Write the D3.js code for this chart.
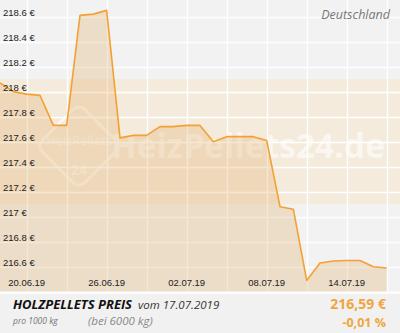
<!DOCTYPE html>
<html lang="de">
<head>
  <meta charset="UTF-8">
  <title>Holzpellets Preis</title>
  <script src="https://d3js.org/d3.v7.min.js"></script>
  <style>
    body { margin: 0; background: #fff; }
    svg { display: block; }
    .ylab, .xlab { font-family: "Liberation Sans", Arial, sans-serif; font-size: 9.5px; fill: #222; }
    .foot { font-family: "Open Sans", sans-serif; }
  </style>
</head>
<body>
  <svg width="400" height="333"></svg>

  <script>
    // daily prices, 18.06.2019 - 17.07.2019 (EUR per 1000 kg)
    const days = [
      "2019-06-18", "2019-06-19", "2019-06-20", "2019-06-21", "2019-06-22", "2019-06-23",
      "2019-06-24", "2019-06-25", "2019-06-26", "2019-06-27", "2019-06-28", "2019-06-29",
      "2019-06-30", "2019-07-01", "2019-07-02", "2019-07-03", "2019-07-04", "2019-07-05",
      "2019-07-06", "2019-07-07", "2019-07-08", "2019-07-09", "2019-07-10", "2019-07-11",
      "2019-07-12", "2019-07-13", "2019-07-14", "2019-07-15", "2019-07-16", "2019-07-17"
    ];
    const prices = [
      218.07, 218.00, 217.98, 217.97, 217.73, 217.73,
      218.61, 218.62, 218.65, 217.63, 217.65, 217.65,
      217.72, 217.72, 217.73, 217.73, 217.60, 217.64,
      217.64, 217.64, 217.61, 217.08, 217.06, 216.49,
      216.63, 216.645, 216.65, 216.65, 216.60, 216.59
    ];
    const yTicks = [216.6, 216.8, 217, 217.2, 217.4, 217.6, 217.8, 218, 218.2, 218.4, 218.6];
    const xTicks = ["2019-06-20", "2019-06-26", "2019-07-02", "2019-07-08", "2019-07-14"];
    const xGrid = ["2019-06-20", "2019-06-23", "2019-06-26", "2019-06-29", "2019-07-02",
                   "2019-07-05", "2019-07-08", "2019-07-11", "2019-07-14", "2019-07-17"];
    const band = [217.1, 218.1];

    const parse = d3.utcParse("%Y-%m-%d");
    const data = days.map((d, i) => ({ date: parse(d), value: prices[i] }));

    const W = 400, plotH = 291.7;
    const svg = d3.select("svg");

    const x = d3.scaleUtc()
      .domain([parse("2019-06-18"), parse("2019-07-18")])
      .range([0, W]);
    const y = d3.scaleLinear()
      .domain([216.4, 218.733])
      .range([plotH, 0]);

    // plot background
    svg.append("rect").attr("width", W).attr("height", plotH).attr("fill", "#f2f2f2");
    svg.append("rect")
      .attr("x", 0).attr("width", W)
      .attr("y", y(band[1])).attr("height", y(band[0]) - y(band[1]))
      .attr("fill", "#f4ebdd");

    // grid
    svg.append("g").selectAll("line").data(yTicks).join("line")
      .attr("x1", 0).attr("x2", W)
      .attr("y1", d => Math.round(y(d)) + 0.5).attr("y2", d => Math.round(y(d)) + 0.5)
      .attr("stroke", "#fff").attr("stroke-width", 1.3);
    svg.append("g").selectAll("line").data(xGrid).join("line")
      .attr("x1", d => Math.round(x(parse(d))) + 0.5).attr("x2", d => Math.round(x(parse(d))) + 0.5)
      .attr("y1", 0).attr("y2", plotH)
      .attr("stroke", "#fff").attr("stroke-width", 1.3);

    // watermark
    const wm = svg.append("g").attr("opacity", 0.6);
    wm.append("rect")
      .attr("x", -30).attr("y", -30).attr("width", 60).attr("height", 60).attr("rx", 8)
      .attr("transform", "translate(79,146) rotate(45)")
      .attr("fill", "none").attr("stroke", "#fff").attr("stroke-width", 3);
    wm.append("text").attr("x", 79).attr("y", 145).attr("text-anchor", "middle")
      .attr("font-family", "Open Sans, sans-serif").attr("font-size", 13).attr("fill", "#fff")
      .text("HeizPellets");
    wm.append("text").attr("x", 79).attr("y", 175).attr("text-anchor", "middle")
      .attr("font-family", "Open Sans, sans-serif").attr("font-weight", "bold").attr("font-size", 14).attr("fill", "#fff")
      .text("24");
    wm.append("text").attr("x", 111).attr("y", 158)
      .attr("font-family", "Open Sans, sans-serif").attr("font-weight", "bold").attr("font-size", 34)
      .attr("textLength", 274).attr("lengthAdjust", "spacingAndGlyphs")
      .attr("fill", "#fff").text("HeizPellets24.de");

    // area + line
    const area = d3.area().x(d => x(d.date)).y0(plotH).y1(d => y(d.value));
    const line = d3.line().x(d => x(d.date)).y(d => y(d.value));
    svg.append("path").datum(data).attr("d", area)
      .attr("fill", "rgb(220,160,80)").attr("fill-opacity", 0.25);
    svg.append("path").datum(data).attr("d", line)
      .attr("fill", "none").attr("stroke", "#f5a032").attr("stroke-width", 1.6)
      .attr("stroke-linejoin", "round");

    // y labels (inside, above the grid line)
    const fmtY = d => d3.format("~g")(d) + " €";
    svg.append("g").selectAll("text").data(yTicks).join("text")
      .attr("class", "ylab")
      .attr("x", 3).attr("y", d => y(d) - 0.5)
      .text(fmtY);

    // x labels
    const fmtX = d3.utcFormat("%d.%m.%y");
    svg.append("g").selectAll("text").data(xTicks).join("text")
      .attr("class", "xlab")
      .attr("x", d => x(parse(d))).attr("y", 285.5)
      .attr("text-anchor", "middle")
      .text(d => fmtX(parse(d)));

    svg.append("text")
      .attr("x", 390).attr("y", 19).attr("text-anchor", "end")
      .attr("font-family", "Open Sans, sans-serif").attr("font-style", "italic")
      .attr("font-size", 12.5).attr("fill", "#777")
      .text("Deutschland");

    // footer
    svg.append("rect").attr("y", plotH).attr("width", W).attr("height", 2).attr("fill", "#fff");
    svg.append("rect").attr("y", plotH + 2).attr("width", W).attr("height", 333 - plotH - 2).attr("fill", "#f1f1f1");

    const foot = svg.append("g").attr("class", "foot");
    foot.append("text").attr("x", 13).attr("y", 309)
      .attr("font-weight", "bold").attr("font-style", "italic").attr("font-size", 12.5)
      .attr("fill", "#111").attr("textLength", 119).attr("lengthAdjust", "spacingAndGlyphs")
      .text("HOLZPELLETS PREIS");
    foot.append("text").attr("x", 138).attr("y", 309)
      .attr("font-style", "italic").attr("font-size", 11.5).attr("fill", "#333")
      .text("vom 17.07.2019");
    foot.append("text").attr("x", 13).attr("y", 324)
      .attr("font-style", "italic").attr("font-size", 8.5).attr("fill", "#777")
      .text("pro 1000 kg");
    foot.append("text").attr("x", 88).attr("y", 325)
      .attr("font-style", "italic").attr("font-size", 11.5).attr("fill", "#888")
      .text("(bei 6000 kg)");
    foot.append("text").attr("x", 386).attr("y", 308.5).attr("text-anchor", "end")
      .attr("font-weight", "bold").attr("font-size", 14).attr("fill", "#f0a540")
      .text("216,59 €");
    foot.append("text").attr("x", 386).attr("y", 327).attr("text-anchor", "end")
      .attr("font-weight", "bold").attr("font-size", 12.5).attr("fill", "#f0a540")
      .text("-0,01 %");
  </script>
</body>
</html>
